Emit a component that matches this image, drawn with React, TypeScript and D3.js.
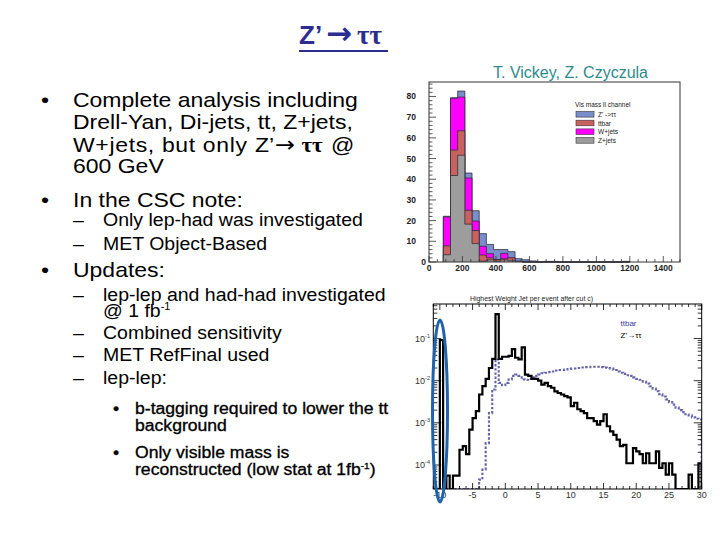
import * as d3 from "d3";

const SANS = "'Liberation Sans', Arial, sans-serif";
const SERIF = "'Liberation Serif', 'DejaVu Serif', serif";

// ---- top plot: visible mass, ll channel (0..1500 GeV, 35 bins), values from bin 2 on
const MASS_MAX = 1500;
const MASS_NBINS = 35;
const MASS_FIRST_BIN = 2;
const ZJETS  = [3.5, 41.8, 51.6, 18.3, 8.9, 0.4, 1.0, 0.4, 1.0, 0.6, 0.3, 0, 0, 0, 0, 0, 0, 0, 0, 0, 0, 0, 0, 0, 0, 0];
const TTBAR  = [4.3, 12.3, 11.8, 6.7, 6.3, 3.0, 1.0, 0.8, 0.6, 1.4, 0, 0, 0, 0, 0, 0, 0, 0, 0, 0, 0, 0, 0, 0, 0, 0];
const WJETS  = [14.0, 25.0, 16.3, 15.6, 4.6, 4.2, 2.0, 0, 2.6, 0, 0, 0, 0, 0, 0, 0, 0, 0, 0, 0, 0, 0, 0, 0, 0, 0];
const ZPRIME = [0.3, 0.3, 2.9, 2.4, 5.0, 6.1, 4.5, 4.8, 1.8, 3.0, 1.3, 1.1, 0.5, 0, 0.3, 0.3, 0, 0, 0, 0, 0, 0, 0, 0, 0, 0.3];
const STACK_NAMES = ["Z+jets", "ttbar", "W+jets", "Z' ->\u03c4\u03c4"];
const STACK_COLORS = ["#9d9d9d", "#c9625f", "#ff00ff", "#7a8ecb"];
const LEGEND_ORDER = [3, 1, 2, 0];
const MASS_YTICKS = [0, 10, 20, 30, 40, 50, 60, 70, 80];
const MASS_XTICKS = [0, 200, 400, 600, 800, 1000, 1200, 1400];

// ---- bottom plot: highest jet weight (-11..30, bins of 0.5), normalised
const JET_LO = -11;
const JET_HI = 30;
const JET_BIN = 0.5;
const JET_ZPRIME = [
  0, 0, 0.092, 0, 5.6e-5, 0, 5.6e-5, 5.6e-5, 2.3e-4, 2.8e-4,
  1.8e-4, 6.9e-4, 1.3e-3, 1.9e-3, 4.7e-3, 7.4e-3, 1.1e-2, 2.0e-2, 3.3e-2, 0.38,
  3.3e-2, 3.7e-2, 3.7e-2, 3.9e-2, 5.6e-2, 3.5e-2, 3.2e-2, 6.2e-2, 1.4e-2, 1.3e-2,
  1.1e-2, 1.1e-2, 1.0e-2, 8.1e-3, 8.9e-3, 7.4e-3, 6.8e-3, 5.6e-3, 5.1e-3, 4.7e-3,
  4.3e-3, 4.0e-3, 2.5e-3, 3.0e-3, 2.1e-3, 1.9e-3, 1.7e-3, 1.3e-3, 1.3e-3, 1.1e-3,
  9.1e-4, 1.1e-3, 1.6e-3, 8.3e-4, 6.3e-4, 5.2e-4, 4.0e-4, 2.8e-4, 3.0e-4, 1.1e-4,
  1.1e-4, 2.5e-4, 2.1e-4, 1.8e-4, 1.1e-4, 1.9e-4, 1.1e-4, 1.1e-4, 2.1e-4, 8.5e-5,
  1.1e-4, 5.9e-5, 1.1e-4, 5.9e-5, 0, 0, 0, 0, 5.9e-5, 0,
  0, 1.1e-4,
];
const JET_TTBAR = [
  0, 0, 0, 0, 0, 0, 0, 0, 0, 0,
  0, 0, 0, 0, 4.5e-5, 7.8e-5, 3.3e-4, 1.7e-3, 6.2e-3, 3.2e-2,
  8.9e-3, 7.8e-3, 8.9e-3, 1.07e-2, 1.3e-2, 1.4e-2, 1.3e-2, 1.07e-2, 1.05e-2, 1.1e-2,
  1.2e-2, 1.3e-2, 1.4e-2, 1.5e-2, 1.55e-2, 1.6e-2, 1.65e-2, 1.75e-2, 1.8e-2, 1.8e-2,
  1.85e-2, 1.9e-2, 1.95e-2, 1.95e-2, 2.0e-2, 2.05e-2, 2.1e-2, 2.1e-2, 2.15e-2, 2.15e-2,
  2.15e-2, 2.1e-2, 2.05e-2, 2.0e-2, 1.95e-2, 1.8e-2, 1.65e-2, 1.55e-2, 1.45e-2, 1.35e-2,
  1.3e-2, 1.2e-2, 1.1e-2, 1.05e-2, 9.5e-3, 8.5e-3, 7.4e-3, 6.5e-3, 5.6e-3, 4.8e-3,
  4.2e-3, 3.6e-3, 3.1e-3, 2.7e-3, 2.3e-3, 2.0e-3, 1.8e-3, 1.6e-3, 1.5e-3, 1.35e-3,
  1.25e-3, 1.2e-3,
];
const JET_XTICKS = [-10, -5, 0, 5, 10, 15, 20, 25, 30];
const JET_DECADES = [-4, -3, -2, -1];

type Pt = [number, number];

// step outline of a histogram, closed down to the baseline at both ends
function stepPts(vals: number[], edge: (i: number) => number): Pt[] {
  const pts: Pt[] = [[edge(0), 0]];
  vals.forEach((v, i) => pts.push([edge(i), v]));
  pts.push([edge(vals.length), 0]);
  return pts;
}

// slide text is a little squashed vertically in the original
const SQ = 0.91;
function T({ x, y, children, ...rest }: any) {
  return (
    <text transform={`translate(${x},${y}) scale(1,${SQ})`} {...rest}>{children}</text>
  );
}

function Title() {
  return (
    <g fill="#2d2d8f" fontWeight="bold">
      <text x={299} y={43.5} fontFamily={SANS} fontSize={26}>Z’</text>
      <text x={326} y={43.5} fontFamily="'DejaVu Sans', sans-serif" fontSize={31}>→</text>
      <text x={357} y={43.5} fontFamily={SERIF} fontSize={27}>ττ</text>
      <rect x={299} y={50} width={89} height={2} />
    </g>
  );
}

function Bullets() {
  const main = 23, sub = 19.5, sub2 = 17.6;
  return (
    <g fill="#000" fontFamily={SANS}>
      <g fontSize={main}>
        <T x={41} y={106.5}>•</T>
        <T x={73} y={106.5}>Complete analysis including</T>
        <T x={73} y={129}>Drell-Yan, Di-jets, tt, Z+jets,</T>
        <T x={73} y={151.5} textLength={174} lengthAdjust="spacing">W+jets, but only</T>
        <T x={255} y={151.5}>Z’</T>
        <T x={275} y={151.5} fontFamily="'DejaVu Sans', sans-serif" fontSize={24}>→</T>
        <T x={301.5} y={151.5} fontFamily={SERIF} fontWeight="bold">ττ</T>
        <T x={331} y={151.5}>@</T>
        <T x={73} y={173}>600 GeV</T>
        <T x={41} y={206.5}>•</T>
        <T x={73} y={206.5}>In the CSC note:</T>
        <T x={41} y={276.5}>•</T>
        <T x={73} y={276.5}>Updates:</T>
      </g>
      <g fontSize={sub}>
        <T x={73} y={225.5}>–</T>
        <T x={103} y={225.5}>Only lep-had was investigated</T>
        <T x={73} y={250}>–</T>
        <T x={103} y={250}>MET Object-Based</T>
        <T x={73} y={301}>–</T>
        <T x={103} y={301}>lep-lep and had-had investigated</T>
        <T x={103} y={317}>@ 1 fb<tspan fontSize={11} dy={-8}>-1</tspan></T>
        <T x={73} y={338.5}>–</T>
        <T x={103} y={338.5}>Combined sensitivity</T>
        <T x={73} y={361}>–</T>
        <T x={103} y={361}>MET RefFinal used</T>
        <T x={73} y={383.5}>–</T>
        <T x={103} y={383.5}>lep-lep:</T>
      </g>
      <g fontSize={sub2} stroke="#000" strokeWidth={0.35}>
        <T x={113} y={413.5}>•</T>
        <T x={135} y={413.5}>b-tagging required to lower the tt</T>
        <T x={135} y={431}>background</T>
        <T x={113} y={458}>•</T>
        <T x={135} y={458}>Only visible mass is</T>
        <T x={135} y={475}>reconstructed (low stat at 1fb<tspan fontSize={10} dy={-7}>-1</tspan><tspan dy={7}>)</tspan></T>
      </g>
    </g>
  );
}

function MassStack() {
  const left = 429, right = 680, top = 82, bottom = 262;
  const x = d3.scaleLinear().domain([0, MASS_MAX]).range([left, right]);
  const y = d3.scaleLinear().domain([0, 87]).range([bottom, top]);
  const bw = MASS_MAX / MASS_NBINS;
  const edge = (i: number) => (MASS_FIRST_BIN + i) * bw;

  const layers = [ZJETS, TTBAR, WJETS, ZPRIME];
  const cum = layers.map((_, k) =>
    ZJETS.map((_, i) => d3.sum(layers.slice(0, k + 1), l => l[i]))
  );
  const area = d3.area<Pt>().x(p => x(p[0])).y0(y(0)).y1(p => y(p[1])).curve(d3.curveStepAfter);
  const line = d3.line<Pt>().x(p => x(p[0])).y(p => y(p[1])).curve(d3.curveStepAfter);

  const yMinor = d3.range(0, 87, 2);
  const xMinor = d3.range(0, MASS_MAX + 1, 50);

  return (
    <g>
      <text x={493} y={78} fontSize={16} fill="#2e8b8b" fontFamily={SANS}>T. Vickey, Z. Czyczula</text>
      {[3, 2, 1, 0].map(k => (
        <g key={k}>
          <path d={area(stepPts(cum[k], edge)) ?? ""} fill={STACK_COLORS[k]} />
          <path d={line(stepPts(cum[k], edge)) ?? ""} fill="none" stroke="#2a2a3a" strokeWidth={0.9} strokeOpacity={0.85} />
        </g>
      ))}
      <rect x={left} y={top} width={right - left} height={bottom - top} fill="none" stroke="#333" strokeWidth={1} />
      {yMinor.map(v => (
        <line key={"ym" + v} x1={left} x2={left + (v % 10 === 0 ? 7 : 3.5)} y1={y(v)} y2={y(v)} stroke="#333" strokeWidth={0.8} />
      ))}
      {xMinor.map(v => (
        <line key={"xm" + v} x1={x(v)} x2={x(v)} y1={bottom} y2={bottom - (v % 200 === 0 ? 6 : 3)} stroke="#333" strokeWidth={0.8} />
      ))}
      <g fontSize={8.5} fontWeight="bold" fill="#222" fontFamily={SANS}>
        {MASS_YTICKS.map(v => (
          <text key={"yl" + v} x={v === 0 ? 426 : 416} y={y(v) + 3} textAnchor="end">{v}</text>
        ))}
        {MASS_XTICKS.map(v => (
          <text key={"xl" + v} x={x(v)} y={271} textAnchor="middle">{v}</text>
        ))}
      </g>
      <g fontFamily={SANS} fontSize={6.5} fill="#222">
        <text x={575} y={107}>Vis mass ll channel</text>
        {LEGEND_ORDER.map((k, r) => (
          <g key={k}>
            <rect x={576} y={111.5 + r * 8.7} width={18} height={5.6} fill={STACK_COLORS[k]} stroke="#333" strokeWidth={0.6} />
            <text x={598} y={117 + r * 8.7}>{STACK_NAMES[k]}</text>
          </g>
        ))}
      </g>
    </g>
  );
}

function JetWeight() {
  const left = 433.3, right = 701.7, top = 304, bottom = 489;
  const x = d3.scaleLinear().domain([JET_LO, JET_HI]).range([left, right]);
  const y = d3.scaleLog().domain([10 ** -4.57, 10 ** -0.18]).range([bottom, top]);
  const yv = (v: number) => (v > 0 ? y(v) : bottom);
  const edge = (i: number) => JET_LO + i * JET_BIN;
  const line = d3.line<Pt>().x(p => x(p[0])).y(p => yv(p[1])).curve(d3.curveStepAfter);

  const xMinor = d3.range(JET_LO, JET_HI + 0.01, 1);
  const yMinor: number[] = [];
  d3.range(-5, 0).forEach(e => d3.range(1, 10).forEach(k => {
    const v = k * 10 ** e;
    if (v >= y.domain()[0] && v <= y.domain()[1]) yMinor.push(v);
  }));

  return (
    <g>
      <defs>
        <clipPath id="jetclip"><rect x={left} y={top} width={right - left} height={bottom - top} /></clipPath>
      </defs>
      <text x={531.5} y={301} fontSize={7.2} fill="#222" textAnchor="middle" textLength={123} lengthAdjust="spacingAndGlyphs">Highest Weight Jet per event after cut c)</text>
      <g clipPath="url(#jetclip)">
        <path d={line(stepPts(JET_TTBAR, edge)) ?? ""} fill="none" stroke="#6563a8" strokeWidth={2.1} strokeDasharray="2.4 1.8" />
        <path d={line(stepPts(JET_ZPRIME, edge)) ?? ""} fill="none" stroke="#000" strokeWidth={2.2} />
      </g>
      <rect x={left} y={top} width={right - left} height={bottom - top} fill="none" stroke="#000" strokeWidth={1} />
      {xMinor.map(v => {
        const len = v % 5 === 0 ? 6 : 3;
        return (
          <g key={"xt" + v} stroke="#000" strokeWidth={0.8}>
            <line x1={x(v)} x2={x(v)} y1={bottom} y2={bottom - len} />
            <line x1={x(v)} x2={x(v)} y1={top} y2={top + len} />
          </g>
        );
      })}
      {yMinor.map(v => {
        const len = Math.abs(Math.log10(v) - Math.round(Math.log10(v))) < 1e-6 ? 8 : 4;
        return (
          <g key={"yt" + v} stroke="#000" strokeWidth={0.8}>
            <line x1={left} x2={left + len} y1={y(v)} y2={y(v)} />
            <line x1={right} x2={right - len} y1={y(v)} y2={y(v)} />
          </g>
        );
      })}
      <g fontSize={9} fill="#333" fontFamily={SANS}>
        {JET_XTICKS.map(v => (
          <text key={"xl" + v} x={x(v)} y={498} textAnchor="middle">{v}</text>
        ))}
        {JET_DECADES.map(e => (
          <text key={"yl" + e} x={430} y={y(10 ** e) + 3} textAnchor="end">
            10<tspan fontSize={5.5} dy={-4}>{e}</tspan>
          </text>
        ))}
      </g>
      <g fontFamily={SANS} fontSize={8}>
        <text x={620.5} y={326} fill="#3a3aa0">ttbar</text>
        <text x={620.5} y={338} fill="#000">Z’→ττ</text>
      </g>
      <ellipse cx={440} cy={411} rx={7.5} ry={91} fill="none" stroke="#1f63ad" strokeWidth={3} />
    </g>
  );
}

export default function App() {
  return (
    <svg width={720} height={540} style={{ position: "fixed", left: 0, top: 0 }} fontFamily={SANS}>
      <rect width={720} height={540} fill="#fff" />
      <Title />
      <Bullets />
      <MassStack />
      <JetWeight />
    </svg>
  );
}
